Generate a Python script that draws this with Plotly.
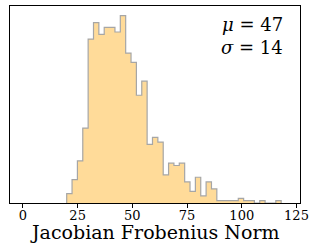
import plotly.graph_objects as go

# Histogram data (40 bins from 20.0 to 118.0)
bin_start = 20.0
bin_width = 2.45
counts = [4, 10, 18, 32, 70, 77, 72, 75, 75, 73,
          80, 64, 60, 46, 52, 25, 28, 26, 12, 17,
          16, 17, 9, 5, 11, 3, 9, 6, 1, 1,
          1, 1, 2, 1, 1, 0, 1, 0, 0, 1]
tick_vals = [0, 25, 50, 75, 100, 125]
mu_text = "<i>μ</i> = 47"
sigma_text = "<i>σ</i> = 14"
x_title = "Jacobian Frobenius Norm"

edges = [bin_start + i * bin_width for i in range(len(counts) + 1)]
xs = [edges[0]] + edges
ys = [0] + counts + [counts[-1]]
xs = xs + [edges[-1]]
ys = ys + [0]

fig = go.Figure()
fig.add_trace(go.Scatter(
    x=xs, y=ys, mode="lines", line_shape="hv",
    fill="tozeroy", fillcolor="#FFDB99",
    line=dict(color="#A6A6A6", width=1.2),
    hoverinfo="skip", showlegend=False,
))

serif = "DejaVu Serif"
fig.update_layout(
    width=314, height=248,
    margin=dict(l=10, r=6, t=5, b=45),
    paper_bgcolor="white", plot_bgcolor="white",
    font=dict(family=serif, color="black"),
    xaxis=dict(
        range=[-5.9, 126.6], tickvals=tick_vals,
        ticks="outside", ticklen=3.5, tickwidth=1, tickcolor="black",
        ticklabelstandoff=-3, ticklabeloverflow="allow",
        showline=True, linecolor="black", linewidth=1, mirror=True,
        showgrid=False, zeroline=False,
        tickfont=dict(family=serif, size=13, color="black"),
    ),
    yaxis=dict(
        range=[0, 84.1], showticklabels=False, ticks="",
        showline=True, linecolor="black", linewidth=1, mirror=True,
        showgrid=False, zeroline=False,
    ),
    annotations=[
        dict(text=mu_text, xref="paper", yref="paper", x=0.948, y=0.906,
             xanchor="right", yanchor="middle", showarrow=False,
             font=dict(family=serif, size=18, color="black")),
        dict(text=sigma_text, xref="paper", yref="paper", x=0.948, y=0.79,
             xanchor="right", yanchor="middle", showarrow=False,
             font=dict(family=serif, size=18, color="black")),
        dict(text=x_title, xref="paper", yref="paper", x=0.497, y=-0.145,
             xanchor="center", yanchor="middle", showarrow=False,
             font=dict(family=serif, size=19, color="black")),
    ],
)

fig.write_html(
    "out.html",
    config={"displayModeBar": False},
    post_script="document.body.style.margin='0';document.body.style.overflow='hidden';",
)
